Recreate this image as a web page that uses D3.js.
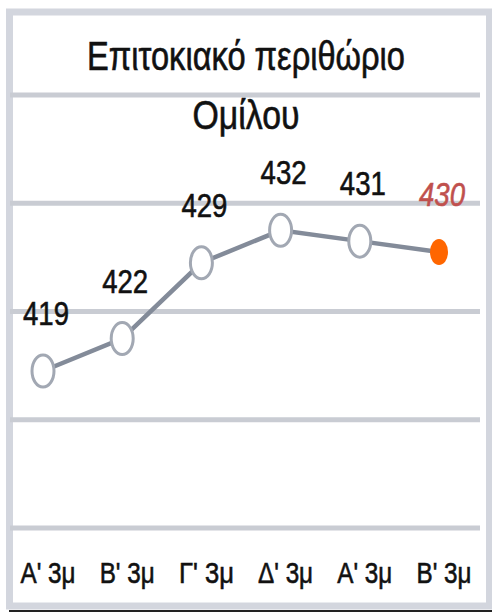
<!DOCTYPE html>
<html>
  <head>
    <meta charset="UTF-8">
    <title>Επιτοκιακό περιθώριο Ομίλου</title>
    <style>
      body { margin: 0; background: #fff; }
      text { font-family: "Liberation Sans", Arial, sans-serif; fill: #111; stroke: #111; stroke-width: 0.6; }
    </style>
  </head>
<body>
<script src="https://d3js.org/d3.v7.min.js"></script>
<script>
// data
var categories = ["Α' 3μ", "Β' 3μ", "Γ' 3μ", "Δ' 3μ", "Α' 3μ", "Β' 3μ"];
var values = [419, 422, 429, 432, 431, 430];
var yTicks = [404.5, 414.5, 424.5, 434.5, 444.5];
var titleLines = ["Επιτοκιακό περιθώριο", "Ομίλου"];

var W = 492, H = 612;

var svg = d3.select("body").append("svg")
    .attr("width", W)
    .attr("height", H);

// frame
svg.append("rect")
    .attr("x", 9.5).attr("y", 12)
    .attr("width", 480).attr("height", 594)
    .attr("fill", "#fff")
    .attr("stroke", "#d3d6de")
    .attr("stroke-width", 7);
svg.append("line")
    .attr("x1", 9).attr("x2", W)
    .attr("y1", 611).attr("y2", 611)
    .attr("stroke", "#222").attr("stroke-width", 2);

var x = d3.scalePoint()
    .domain(d3.range(values.length))
    .range([43, 439]);

var y = d3.scaleLinear()
    .domain([404.5, 444.5])
    .range([528, 95]);

// gridlines
svg.append("g")
  .selectAll("line")
  .data(yTicks)
  .enter().append("line")
    .attr("x1", 10).attr("x2", 480)
    .attr("y1", d => y(d)).attr("y2", d => y(d))
    .attr("stroke", "#c9ccd3")
    .attr("stroke-width", 5);

// title
svg.append("g")
  .selectAll("text")
  .data(titleLines)
  .enter().append("text")
    .attr("x", 246)
    .attr("y", (d, i) => i === 0 ? 70 : 129)
    .attr("text-anchor", "middle")
    .attr("font-size", 40)
    .attr("textLength", (d, i) => i === 0 ? 318 : 107)
    .attr("lengthAdjust", "spacingAndGlyphs")
    .text(d => d);

// line
var line = d3.line()
    .x((d, i) => x(i))
    .y(d => y(d));

svg.append("path")
    .datum(values)
    .attr("fill", "none")
    .attr("stroke", "#838b99")
    .attr("stroke-width", 4.5)
    .attr("d", line);

var last = values.length - 1;

// markers
svg.append("g")
  .selectAll("ellipse")
  .data(values.slice(0, last))
  .enter().append("ellipse")
    .attr("cx", (d, i) => x(i))
    .attr("cy", d => y(d))
    .attr("rx", 11)
    .attr("ry", 16)
    .attr("fill", "#fff")
    .attr("stroke", "#a2a8b3")
    .attr("stroke-width", 3);

svg.append("ellipse")
    .attr("cx", x(last))
    .attr("cy", y(values[last]))
    .attr("rx", 9)
    .attr("ry", 13)
    .attr("fill", "#ff6600");

// data labels
svg.append("g")
  .selectAll("text")
  .data(values)
  .enter().append("text")
    .attr("x", (d, i) => x(i) + 3)
    .attr("y", d => y(d) - 46)
    .attr("text-anchor", "middle")
    .attr("font-size", 34)
    .attr("textLength", 46)
    .attr("lengthAdjust", "spacingAndGlyphs")
    .style("fill", (d, i) => i === last ? "#c0504d" : "#111")
    .style("stroke", (d, i) => i === last ? "#c0504d" : "#111")
    .style("font-style", (d, i) => i === last ? "italic" : "normal")
    .text(d => d);

// category labels
svg.append("g")
  .selectAll("text")
  .data(categories)
  .enter().append("text")
    .attr("x", (d, i) => x(i) + 5)
    .attr("y", 583)
    .attr("text-anchor", "middle")
    .attr("font-size", 29)
    .attr("textLength", 55)
    .attr("lengthAdjust", "spacingAndGlyphs")
    .text(d => d);
</script>
</body>
</html>
